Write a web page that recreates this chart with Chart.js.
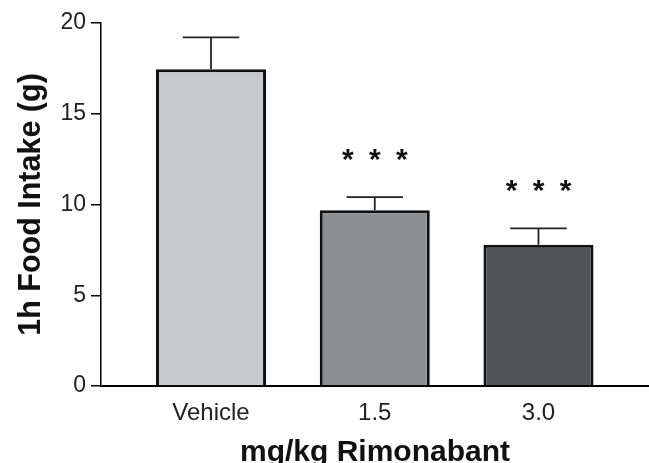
<!DOCTYPE html>
<html>
<head>
    <script src="https://cdn.jsdelivr.net/npm/chart.js@4.4.0/dist/chart.umd.min.js"></script>
    <title>Rimonabant 1h food intake</title>
    <style>
        body { margin: 0; background: #fff; }
        #graph-area { width: 649px; height: 463px; }
    </style>
</head>
<body>
<div id="graph-area"><canvas id="myChart"></canvas></div>

<script>
    // 1h food intake (g), mean and SEM per dose
    var doses = ['Vehicle', '1.5', '3.0'];
    var intake = [17.45, 9.68, 7.78];
    var sem = [1.76, 0.73, 0.91];
    var stars = ['', '***', '***'];
    var yTicks = [0, 5, 10, 15, 20];

    var points = [];
    for (var i = 0; i < doses.length; i++) {
        points.push({x: i, y: intake[i]});
    }

    var font = 'Liberation Sans, Arial, Helvetica, sans-serif';

    // SEM whiskers and significance stars on top of the bars
    var errorBars = {
        id: 'errorBars',
        afterDatasetsDraw: function(chart) {
            var ctx = chart.ctx;
            var meta = chart.getDatasetMeta(0);
            var yScale = chart.scales.y;
            ctx.save();
            meta.data.forEach(function(bar, i) {
                var top = yScale.getPixelForValue(intake[i] + sem[i]);
                var half = bar.width * 0.257;
                ctx.strokeStyle = '#222';
                ctx.lineWidth = 1.8;
                ctx.beginPath();
                ctx.moveTo(bar.x, bar.y);
                ctx.lineTo(bar.x, top);
                ctx.moveTo(bar.x - half, top);
                ctx.lineTo(bar.x + half, top);
                ctx.stroke();

                if (stars[i]) {
                    ctx.fillStyle = '#111';
                    ctx.font = 'bold 30px ' + font;
                    ctx.textAlign = 'center';
                    ctx.textBaseline = 'alphabetic';
                    var n = stars[i].length;
                    for (var k = 0; k < n; k++) {
                        ctx.fillText(stars[i][k], bar.x + (k - (n - 1) / 2) * 27, top - 28);
                    }
                }
            });
            ctx.restore();
        }
    };

    var ctx = document.getElementById('myChart').getContext('2d');
    var myChart = new Chart(ctx, {
        type: 'bar',
        data: {
            datasets: [{
                data: points,
                backgroundColor: ['#c8c9cb', '#8e8f91', '#525355'],
                borderColor: '#111',
                borderWidth: 3,
                categoryPercentage: 1,
                barPercentage: 0.672
            }]
        },
        options: {
            responsive: true,
            maintainAspectRatio: false,
            animation: false,
            layout: { padding: { top: 23, right: 0, bottom: 0, left: 0 } },
            plugins: {
                legend: { display: false },
                tooltip: { enabled: false }
            },
            scales: {
                x: {
                    type: 'linear',
                    offset: false,
                    min: -0.672,
                    max: 2.675,
                    afterFit: function(s) { s.height = 77; },
                    afterBuildTicks: function(s) {
                        s.ticks = doses.map(function(d, i) { return {value: i}; });
                    },
                    border: { display: true, color: '#000', width: 2 },
                    grid: { display: false, drawTicks: false, offset: false },
                    ticks: {
                        color: '#222',
                        padding: 13,
                        font: { family: font, size: 24 },
                        callback: function(v) { return doses[v]; }
                    },
                    title: {
                        display: true,
                        text: 'mg/kg Rimonabant',
                        color: '#111',
                        font: { family: font, size: 30, weight: 'bold' },
                        padding: { top: 0, bottom: -8 }
                    }
                },
                y: {
                    min: 0,
                    max: 20,
                    afterFit: function(s) { s.width = 101; },
                    afterBuildTicks: function(s) {
                        s.ticks = yTicks.map(function(v) { return {value: v}; });
                    },
                    border: { display: true, color: '#000', width: 1.5 },
                    grid: {
                        drawOnChartArea: false,
                        drawTicks: true,
                        tickLength: 10,
                        color: '#000',
                        lineWidth: 1.5
                    },
                    ticks: {
                        color: '#222',
                        padding: 5,
                        font: { family: font, size: 23 }
                    },
                    title: {
                        display: true,
                        text: '1h Food Intake (g)',
                        color: '#111',
                        font: { family: font, size: 30.5, weight: 'bold' },
                        padding: { top: 13, bottom: 0 }
                    }
                }
            }
        },
        plugins: [errorBars]
    });
</script>
</body>
</html>
